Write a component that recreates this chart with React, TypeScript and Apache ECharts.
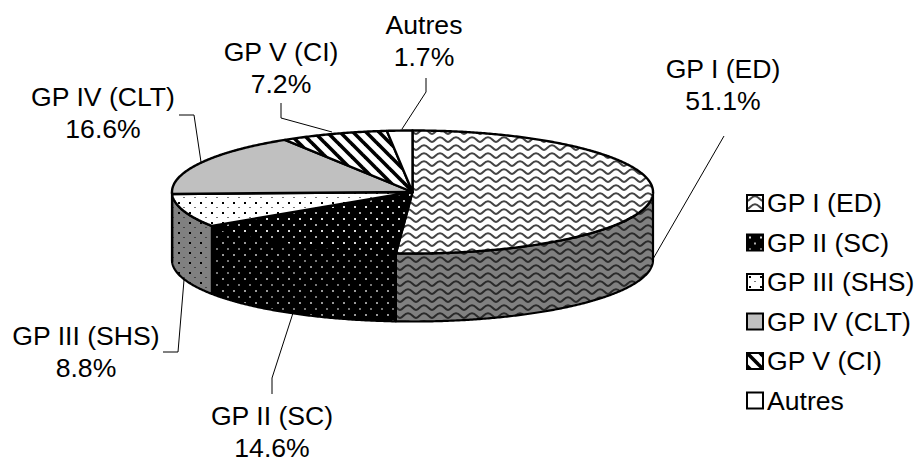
import React, { useEffect, useRef } from "react";
import * as echarts from "echarts";

const categories = ["GP I (ED)", "GP II (SC)", "GP III (SHS)", "GP IV (CLT)", "GP V (CI)", "Autres"];
const values = [51.1, 14.6, 8.8, 16.6, 7.2, 1.7];
const percentLabels = ["51.1%", "14.6%", "8.8%", "16.6%", "7.2%", "1.7%"];

const FONT = "Liberation Sans, Arial, sans-serif";
const FS = 26.6;
const CX = 412.5, CY = 192, RX = 240.5, RY = 61.5, DEPTH = 68;

// label centre (x, y of the block's middle) and leader polyline for each slice
const labelPos: number[][] = [[723, 85], [272, 432], [86, 352], [103, 113], [281, 68], [424, 41]];
const leaders: number[][][] = [
  [[653, 259], [724, 136]],
  [[293, 313], [272, 378], [272, 394]],
  [[184, 280], [178, 352], [163, 352]],
  [[201, 162], [194, 115], [179, 115]],
  [[332, 132], [281, 118], [281, 103]],
  [[402, 129], [426, 92], [426, 78]],
];

function tile(w: number, h: number, draw: (c: CanvasRenderingContext2D) => void) {
  const cv = document.createElement("canvas");
  cv.width = w;
  cv.height = h;
  const c = cv.getContext("2d")!;
  draw(c);
  return { image: cv, repeat: "repeat" as const };
}
function wave(bg: string, fg: string) {
  return tile(16, 8, (c) => {
    c.fillStyle = bg;
    c.fillRect(0, 0, 16, 8);
    c.strokeStyle = fg;
    c.lineWidth = 2;
    c.beginPath();
    c.moveTo(-2, 6.2);
    c.bezierCurveTo(3, 7, 3.5, 1.2, 8, 1.2);
    c.bezierCurveTo(12.5, 1.2, 13, 7, 18, 6.2);
    c.stroke();
  });
}
function dots(bg: string, strong: string, dim: string, h = 10) {
  return tile(11, h, (c) => {
    c.fillStyle = bg;
    c.fillRect(0, 0, 11, h);
    c.fillStyle = strong;
    c.fillRect(2, 2, 2, 2);
    c.fillStyle = dim;
    c.fillRect(7, 2 + h / 2, 2, h > 10 ? 2 : 1);
  });
}
function stripes() {
  return tile(13, 13, (c) => {
    c.fillStyle = "#fff";
    c.fillRect(0, 0, 13, 13);
    c.strokeStyle = "#000";
    c.lineWidth = 3.6;
    for (const o of [-13, 0, 13]) {
      c.beginPath();
      c.moveTo(o - 2, -2);
      c.lineTo(o + 15, 15);
      c.stroke();
    }
  });
}
function solid(col: string) {
  return tile(4, 4, (c) => {
    c.fillStyle = col;
    c.fillRect(0, 0, 4, 4);
  });
}

function pt(a: number, dy = 0) {
  return [CX + RX * Math.sin(a), CY - RY * Math.cos(a) + dy];
}
function arc(a0: number, a1: number, dy = 0) {
  const n = Math.max(2, Math.ceil((a1 - a0) / 0.008));
  const out: number[][] = [];
  for (let k = 0; k <= n; k++) out.push(pt(a0 + ((a1 - a0) * k) / n, dy));
  return out;
}
function topPoints(a0: number, a1: number) {
  return [[CX, CY], ...arc(a0, a1)];
}
function sidePoints(a0: number, a1: number) {
  const s = Math.max(a0, Math.PI / 2), e = Math.min(a1, (Math.PI * 3) / 2);
  if (e <= s) return null;
  return [...arc(s, e), ...arc(s, e, DEPTH).reverse()];
}

export default function App() {
  const ref = useRef<HTMLDivElement>(null);
  useEffect(() => {
    const chart = echarts.init(ref.current!, undefined, { renderer: "svg" });
    const topFills: any[] = [
      wave("#fff", "#444"),
      dots("#000", "#ddd", "#aaa", 12),
      dots("#fff", "#000", "#777"),
      solid("#c0c0c0"),
      stripes(),
      solid("#fff"),
    ];
    const sideFills: any[] = [
      wave("#808080", "#2a2a2a"),
      dots("#000", "#999", "#777", 12),
      dots("#808080", "#000", "#444"),
      solid("#606060"),
      stripes(),
      solid("#808080"),
    ];
    const total = values.reduce((a, b) => a + b, 0);
    const cumulative = values.map((_, i) => values.slice(0, i).reduce((a, b) => a + b, 0));
    const angle = (v: number) => (v / total) * Math.PI * 2;

    const series: any[] = categories.map((name, i) => ({
      type: "custom",
      name,
      coordinateSystem: "none",
      data: [values[i]],
      itemStyle: { color: topFills[i], borderColor: "#000", borderWidth: 2 },
      renderItem: () => {
        const a0 = angle(cumulative[i]);
        const a1 = angle(cumulative[i] + values[i]);
        const children: any[] = [];
        const side = sidePoints(a0, a1);
        if (side) {
          children.push({
            type: "polygon",
            shape: { points: side },
            style: { fill: sideFills[i], stroke: "#000", lineWidth: 2.2, lineJoin: "round" },
          });
        }
        children.push({
          type: "polygon",
          shape: { points: topPoints(a0, a1) },
          style: { fill: topFills[i], stroke: "#000", lineWidth: 2.4, lineJoin: "round" },
        });
        children.push({
          type: "polyline",
          shape: { points: leaders[i] },
          style: { fill: "none", stroke: "#000", lineWidth: 1 },
        });
        children.push({
          type: "text",
          x: labelPos[i][0],
          y: labelPos[i][1],
          style: {
            text: `${name}\n${percentLabels[i]}`,
            font: `${FS}px ${FONT}`,
            fill: "#000",
            align: "center",
            verticalAlign: "middle",
            lineHeight: 32,
          },
        });
        return { type: "group", children };
      },
    }));

    chart.setOption({
      animation: false,
      backgroundColor: "#fff",
      legend: {
        orient: "vertical",
        left: 746,
        top: 188,
        icon: "rect",
        itemWidth: 16,
        itemHeight: 16,
        itemGap: 9.5,
        padding: 0,
        selectedMode: false,
        textStyle: { fontFamily: FONT, fontSize: FS, color: "#000", padding: [0, 0, 0, -1], lineHeight: 30 },
        data: categories.map((name, i) => ({
          name,
          itemStyle: { color: topFills[i], borderColor: "#000", borderWidth: 2 },
        })),
      },
      series,
    });
    return () => chart.dispose();
  }, []);
  return (
    <div
      ref={ref}
      style={{ position: "fixed", left: 0, top: 0, width: 920, height: 464 }}
    />
  );
}
